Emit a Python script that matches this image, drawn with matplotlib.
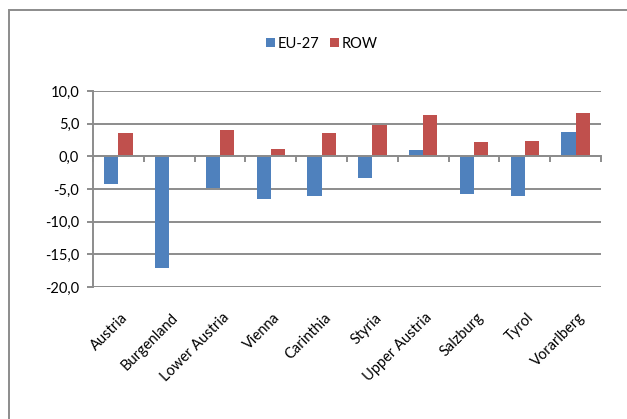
import matplotlib.pyplot as plt
import matplotlib.patches as mpatches
import matplotlib.transforms as mtrans
import numpy as np

regions = ["Austria", "Burgenland", "Lower Austria", "Vienna", "Carinthia",
           "Styria", "Upper Austria", "Salzburg", "Tyrol", "Vorarlberg"]
eu27 = [-4.3, -17.1, -4.9, -6.6, -6.1, -3.3, 1.0, -5.8, -6.0, 3.8]
row = [3.5, -0.1, 4.1, 1.1, 3.5, 4.8, 6.3, 2.2, 2.3, 6.6]
yticks = [10, 5, 0, -5, -10, -15, -20]

plt.rcParams["font.family"] = ["Lato", "DejaVu Sans"]

fig = plt.figure(figsize=(6.27, 4.19), dpi=100)
ax = fig.add_axes([93/627, 1-287/419, (601-93)/627, (287-91)/419])

x = np.arange(len(regions))
w = 0.28
b1 = ax.bar(x - w/2, eu27, w, color="#4F81BD", label="EU-27", zorder=3)
b2 = ax.bar(x + w/2, row, w, color="#C0504D", label="ROW", zorder=3)

ax.set_xlim(-0.5, len(regions) - 0.5)
ax.set_ylim(-20, 10)
ax.set_yticks(yticks)
ax.set_yticklabels([("%.1f" % v).replace(".", ",") for v in yticks], fontsize=10.5)
ax.grid(axis="y", color="#8c8c8c", linewidth=1.4, zorder=0)
ax.tick_params(axis="y", length=4, color="#8c8c8c", width=1.4, pad=6)

for s in ["top", "right"]:
    ax.spines[s].set_visible(False)
ax.spines["left"].set_color("#8c8c8c")
ax.spines["left"].set_linewidth(1.4)
ax.spines["bottom"].set_position(("data", 0))
ax.spines["bottom"].set_color("#8c8c8c")
ax.spines["bottom"].set_linewidth(1.4)
ax.spines["bottom"].set_zorder(4)
ax.set_xticks(np.arange(len(regions) + 1) - 0.5)
ax.set_xticklabels([])
ax.tick_params(axis="x", length=4, color="#8c8c8c", width=1.4)

sec = ax.secondary_xaxis("bottom")
sec.set_xticks(x)
sec.set_xticklabels(regions, rotation=45, ha="right", rotation_mode="anchor", fontsize=10.5)
sec.tick_params(length=0, pad=17)
sec.spines["bottom"].set_visible(False)
shift = mtrans.ScaledTranslation(0.02, 0, fig.dpi_scale_trans)
for lab in sec.get_xticklabels():
    lab.set_transform(lab.get_transform() + shift)

fig.legend(handles=[b1, b2], loc="center", bbox_to_anchor=(322/627, 1-44/419),
           ncol=2, frameon=False, fontsize=10.5, handlelength=0.6, handleheight=0.6,
           handletextpad=0.2, columnspacing=0.7)

fig.patches.append(mpatches.Rectangle((9/627, -0.1), 1.2, 1.1 - 10/419,
                                      transform=fig.transFigure, fill=False,
                                      edgecolor="#8c8c8c", linewidth=1.4))

fig.savefig("out.png", dpi=100)
